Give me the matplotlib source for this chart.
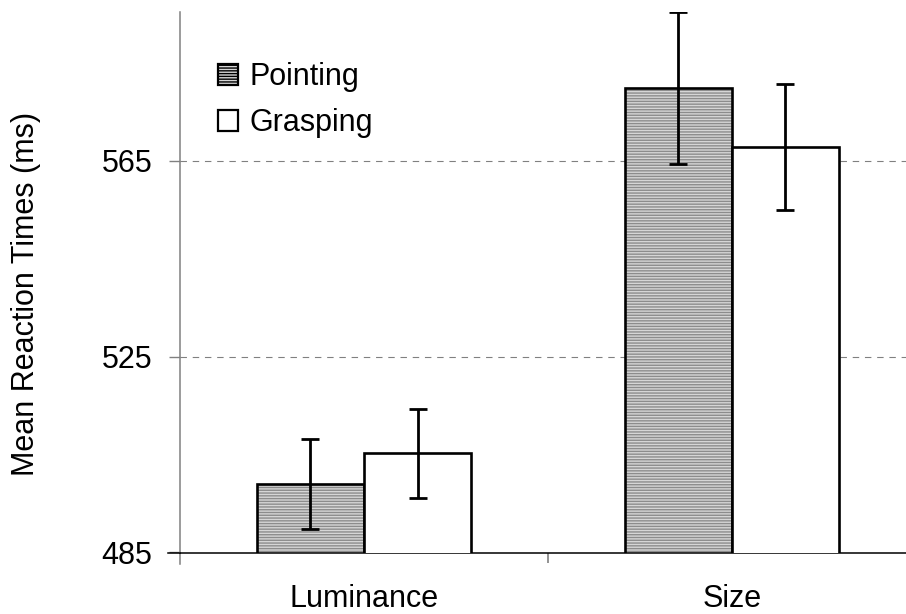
import matplotlib
matplotlib.use("Agg")
import matplotlib.pyplot as plt
from matplotlib.patches import Patch
from matplotlib.lines import Line2D
import numpy as np

categories = ["Luminance", "Size"]
series = ["Pointing", "Grasping"]
pointing = [499.0, 579.9]
pointing_err = [9.2, 15.5]
grasping = [505.3, 567.8]
grasping_err = [9.1, 12.9]
yticks = [485, 525, 565]
grid_values = [525, 565]

plt.rcParams["font.family"] = ["Liberation Sans", "DejaVu Sans"]
FS = 22

W, H = 906, 614
fig = plt.figure(figsize=(W / 100, H / 100), dpi=100)
ax = fig.add_axes([180 / W, 61.5 / H, 726 / W, 540.5 / H])

x = np.arange(len(categories))
bw = 0.291
off = bw / 2

# hatched fill for pointing, then outline on top
ax.bar(x - off, pointing, bw, color="#d6d6d6", edgecolor="#8c8c8c",
       hatch="------", linewidth=0, zorder=2)
ax.bar(x - off, pointing, bw, facecolor="none", edgecolor="black",
       linewidth=1.9, zorder=3)
ax.bar(x + off, grasping, bw, facecolor="white", edgecolor="black",
       linewidth=1.9, zorder=3)

ax.errorbar(x - off, pointing, yerr=pointing_err, fmt="none", ecolor="black",
            elinewidth=2.0, capsize=6.5, capthick=2.0, zorder=4)
ax.errorbar(x + off, grasping, yerr=grasping_err, fmt="none", ecolor="black",
            elinewidth=2.0, capsize=6.5, capthick=2.0, zorder=4)

for g in grid_values:
    ax.axhline(g, color="#808080", linewidth=0.8, dashes=(5.8, 5.2), zorder=1)

ax.set_ylim(485, 595.4)
ax.set_xlim(-0.5, 1.473)

ax.set_yticks(yticks)
ax.set_yticklabels([str(t) for t in yticks], fontsize=FS)
ax.tick_params(axis="y", length=8, width=1.0, color="#808080", pad=12)

ax.set_xticks(x)
ax.set_xticklabels(categories, fontsize=FS)
ax.tick_params(axis="x", which="major", length=0, pad=23)
ax.set_xticks([0.5], minor=True)
ax.tick_params(axis="x", which="minor", length=7.5, width=1.2, color="#808080")

for s in ["top", "right"]:
    ax.spines[s].set_visible(False)
ax.spines["left"].set_color("#808080")
ax.spines["left"].set_linewidth(1.1)
ax.spines["bottom"].set_color("black")
ax.spines["bottom"].set_linewidth(1.1)

# axis lines run a little past their crossing point
ax.add_line(Line2D([0, 0], [0, -11 / 540.5], transform=ax.transAxes,
                   color="#808080", linewidth=1.1, clip_on=False))
ax.add_line(Line2D([-12 / 726, 0], [0, 0], transform=ax.transAxes,
                   color="black", linewidth=1.1, clip_on=False))

fig.text(26 / W, 1 - 293.5 / H, "Mean Reaction Times (ms)", rotation=90,
         ha="center", va="center", fontsize=FS)

handles = [
    Patch(facecolor="#d6d6d6", edgecolor="black", hatch="------", linewidth=1.6),
    Patch(facecolor="white", edgecolor="black", linewidth=1.6),
]
ax.legend(handles, series, loc="upper left", bbox_to_anchor=(0.052, 0.907),
          frameon=False, fontsize=FS, borderpad=0, borderaxespad=0,
          handlelength=0.65, handleheight=0.65, handletextpad=0.38,
          labelspacing=0.52)

fig.savefig("out.png", dpi=100)
